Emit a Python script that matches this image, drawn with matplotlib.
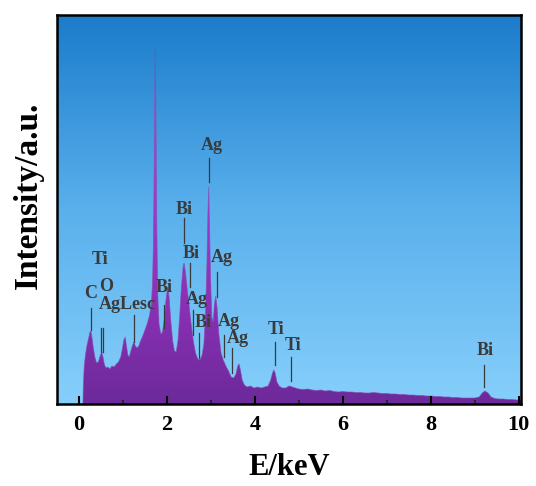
import numpy as np
import matplotlib
matplotlib.use("Agg")
import matplotlib.pyplot as plt
from matplotlib.colors import LinearSegmentedColormap

plt.rcParams['font.family'] = ['Liberation Serif', 'DejaVu Serif']
plt.rcParams['font.weight'] = 'bold'

# ---- spectrum data (energy keV, intensity a.u.) ----
energy = [0.00, 0.09, 0.10, 0.12, 0.15, 0.18, 0.22, 0.25, 0.27, 0.29, 0.32, 0.36, 0.40, 0.44,
          0.48, 0.52, 0.55, 0.58, 0.62, 0.66, 0.70, 0.75, 0.80, 0.85, 0.90, 0.95, 0.99, 1.02,
          1.05, 1.08, 1.11, 1.14, 1.18, 1.22, 1.25, 1.28, 1.32, 1.36, 1.40, 1.45, 1.50, 1.55,
          1.60, 1.64, 1.67, 1.69, 1.71, 1.725, 1.735, 1.75, 1.77, 1.79, 1.82, 1.86, 1.90, 1.94,
          1.98, 2.02, 2.05, 2.09, 2.13, 2.17, 2.21, 2.25, 2.29, 2.33, 2.37, 2.39, 2.42, 2.46,
          2.50, 2.55, 2.60, 2.65, 2.70, 2.75, 2.80, 2.84, 2.88, 2.91, 2.93, 2.95, 2.97, 2.99,
          3.02, 3.05, 3.08, 3.11, 3.14, 3.18, 3.23, 3.28, 3.34, 3.40, 3.46, 3.52, 3.57, 3.61,
          3.64, 3.67, 3.71, 3.76, 3.82, 3.90, 3.98, 4.06, 4.14, 4.22, 4.30, 4.36, 4.40, 4.43,
          4.46, 4.50, 4.55, 4.62, 4.70, 4.78, 4.85, 4.92, 5.00, 5.10, 5.20, 5.30, 5.40, 5.50,
          5.60, 5.70, 5.80, 5.90, 6.00, 6.10, 6.20, 6.30, 6.40, 6.50, 6.60, 6.70, 6.80, 6.90,
          7.00, 7.10, 7.20, 7.30, 7.40, 7.50, 7.60, 7.70, 7.80, 7.90, 8.00, 8.10, 8.20, 8.30,
          8.40, 8.50, 8.60, 8.70, 8.80, 8.90, 9.00, 9.10, 9.17, 9.23, 9.30, 9.37, 9.45, 9.55,
          9.65, 9.75, 9.85, 9.95, 10.05]
intensity = [0, 0, 20, 38, 50, 58, 66, 72, 73, 68, 58, 47, 41, 42,
             48, 52, 46, 39, 36, 37, 35, 38, 37, 40, 42, 47, 56, 64,
             67, 58, 49, 47, 53, 59, 62, 58, 56, 58, 63, 68, 74, 80,
             88, 98, 118, 155, 235, 320, 354, 285, 175, 110, 80, 70, 72, 85,
             105, 117, 106, 82, 63, 53, 52, 63, 88, 118, 138, 141, 132, 115,
             100, 80, 63, 51, 45, 44, 49, 60, 92, 142, 188, 217, 172, 128,
             87, 82, 99, 108, 96, 70, 51, 44, 38, 33, 27, 26, 30, 38,
             40, 34, 24, 19, 17, 18, 16, 17, 16, 17, 18, 24, 31, 34,
             31, 22, 18, 16, 16, 18, 17, 16, 15, 14.5, 15, 14, 13.5, 14,
             13, 13.5, 12.5, 12, 12.5, 12, 12, 11.5, 11.5, 11, 11, 11.5, 11, 10.5,
             10.5, 10, 10, 9.5, 9.5, 9, 9, 8.5, 8.5, 8, 8, 7.5, 7.5, 7,
             7, 6.5, 6.5, 6, 6, 6, 6, 7, 11, 13, 11, 7, 5.5, 5,
             5, 4.5, 4.5, 4, 4]

# ---- peak labels ----
peak_labels = ['C', 'Ti', 'O', 'AgLesc', 'Bi', 'Bi', 'Bi', 'Ag', 'Bi', 'Ag', 'Ag', 'Ag', 'Ag',
               'Ti', 'Ti', 'Bi']
peak_energy = [0.27, 0.50, 0.55, 1.25, 1.93, 2.39, 2.52, 2.59, 2.72, 2.95, 3.14, 3.30, 3.48,
               4.45, 4.82, 9.20]

# layout for labels: (line_top, line_bottom, text_x, text_y)
label_layout = [(96, 74, 0.27, 111), (76, 52, 0.49, 145), (76, 52, 0.61, 118),
                (89, 62, 1.11, 100), (99, 76, 1.93, 117), (186, 161, 2.39, 195),
                (141, 117, 2.56, 151), (94, 69, 2.68, 105), (71, 46, 2.82, 82),
                (246, 222, 3.02, 259), (132, 107, 3.25, 147), (69, 47, 3.41, 83),
                (56, 31, 3.61, 66), (62, 39, 4.48, 75), (47, 23, 4.86, 59),
                (39, 17, 9.23, 54)]

xmin, xmax = -0.5, 10.05
ymin, ymax = 0, 389

fig = plt.figure(figsize=(5.36, 4.86), dpi=100)
ax = fig.add_axes([57/536, 1-404/486, (521-57)/536, (404-15)/486])
ax.set_xlim(xmin, xmax)
ax.set_ylim(ymin, ymax)

# background gradient
bg_cmap = LinearSegmentedColormap.from_list('bg', ['#86cffb', '#5ab0ec', '#1b7ccb'])
ax.imshow(np.linspace(0, 1, 256).reshape(-1, 1), extent=[xmin, xmax, ymin, ymax],
          origin='lower', cmap=bg_cmap, aspect='auto', zorder=0)

# spectrum fill with gradient
poly = ax.fill_between(energy, intensity, 0, facecolor='none', edgecolor='none', zorder=1)
fill_cmap = LinearSegmentedColormap.from_list(
    'fill', [(0.0, '#6c2a9a'), (0.25, '#8a30b4'), (0.6, '#a83ad2'), (1.0, '#c44ee6')])
grad = ax.imshow(np.linspace(0, 1, 256).reshape(-1, 1), extent=[xmin, xmax, ymin, ymax],
                 origin='lower', cmap=fill_cmap, aspect='auto', zorder=1)
grad.set_clip_path(poly.get_paths()[0], transform=ax.transData)
ax.plot(energy, intensity, color='#8a4ab0', lw=0.6, zorder=1.1, alpha=0.7)

# labels
for lab, e, (ltop, lbot, tx, ty) in zip(peak_labels, peak_energy, label_layout):
    ax.plot([e, e], [lbot, ltop], color='#3a3a3a', lw=0.9, zorder=3)
    ax.text(tx, ty, lab, ha='center', va='center', fontsize=13, fontweight='bold',
            color='#3a3a3a', zorder=4)

ax.set_xticks([0, 2, 4, 6, 8, 10])
ax.set_xticks([1, 3, 5, 7, 9], minor=True)
ax.set_yticks([])
ax.tick_params(axis='x', which='major', direction='in', length=6, width=1.5, color='black',
               labelsize=16, pad=8)
ax.tick_params(axis='x', which='minor', direction='in', length=3, width=1.2, color='#222222')
for lbl in ax.get_xticklabels():
    lbl.set_fontweight('bold')
for sp in ax.spines.values():
    sp.set_linewidth(1.8)
    sp.set_color('black')

ax.set_xlabel('E/keV', fontsize=22, fontweight='bold', labelpad=13)
fig.text(28/536, 1-195/486, 'Intensity/a.u.', rotation=90, ha='center', va='center',
         fontsize=24, fontweight='bold')

fig.savefig('out.png', dpi=100)
